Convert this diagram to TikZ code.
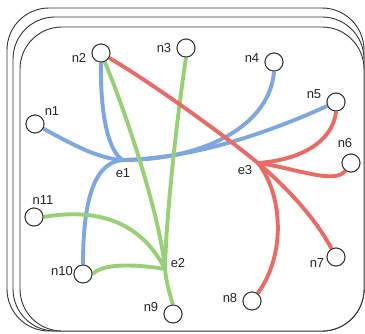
\documentclass[tikz,border=0pt]{standalone}
\usepackage{fontspec}
\setmainfont{Liberation Sans}
\definecolor{hblue}{HTML}{7EA6E0}
\definecolor{hgreen}{HTML}{97D077}
\definecolor{hred}{HTML}{EA6B66}
\definecolor{frame}{HTML}{333333}
\begin{document}
\begin{tikzpicture}[x=1pt,y=-1pt,
  sheet/.style={draw=frame,line width=0.9pt,fill=white,rounded corners=42pt},
  vtx/.style={circle,draw=frame,line width=0.9pt,fill=white,minimum size=18pt,inner sep=0pt},
  lbl/.style={font=\fontsize{13}{13}\selectfont,inner sep=0pt,text=black!85},
  blueedge/.style={draw=hblue,line width=3.9pt},
  greenedge/.style={draw=hgreen,line width=3.9pt},
  rededge/.style={draw=hred,line width=3.9pt}]
\useasboundingbox (0,0) rectangle (365,333);
% stacked sheets
\draw[sheet] (7,8) rectangle (364,331);
\draw[sheet] (13,17) rectangle (364,331);
\draw[sheet] (20,27) rectangle (364,331);

% hub points of the three hyperedges
\coordinate (h1) at (123,160);
\coordinate (h2) at (165,269);
\coordinate (h3) at (258,163);

% vertices (placed first so edges can refer to them)
\node[vtx] (n1) at (35,124) {};
\node[vtx] (n2) at (101,53) {};
\node[vtx] (n3) at (186,48) {};
\node[vtx] (n4) at (274,62) {};
\node[vtx] (n5) at (336,102) {};
\node[vtx] (n6) at (351,163) {};
\node[vtx] (n7) at (336,257) {};
\node[vtx] (n8) at (252,301) {};
\node[vtx] (n9) at (173,314) {};
\node[vtx] (n10) at (83,274) {};
\node[vtx] (n11) at (34,217) {};

% hyperedge e1
\draw[blueedge] (n1) .. controls (75,146) and (100,159) .. (h1);
\draw[blueedge] (n2.south) .. controls (100,112) and (108,152) .. (h1);
\draw[blueedge] (n4.south) .. controls (270,125) and (205,160) .. (h1);
\draw[blueedge] (n5) .. controls (285,125) and (205,158) .. (h1);
\draw[blueedge] (n10.north) .. controls (83,198) and (95,162) .. (h1);

% hyperedge e2
\draw[greenedge] (n2) .. controls (125,110) and (160,215) .. (h2);
\draw[greenedge] (n3.south) .. controls (178,110) and (166,215) .. (h2);
\draw[greenedge] (n9.north) .. controls (170,295) and (166,282) .. (h2);
\draw[greenedge] (n11.east) .. controls (95,208) and (140,220) .. (h2);
\draw[greenedge] (n10.east) .. controls (105,262) and (140,265) .. (h2);

% hyperedge e3
\draw[rededge] (n2) .. controls (150,82) and (220,132) .. (h3);
\draw[rededge] (n5.south) .. controls (333,142) and (300,160) .. (h3);
\draw[rededge] (n6) .. controls (335,185) and (295,168) .. (h3);
\draw[rededge] (n7) .. controls (312,212) and (278,180) .. (h3);
\draw[rededge] (n8) .. controls (286,255) and (283,195) .. (h3);

% redraw vertices above the edges
\foreach \v/\p in {n1/{35,124},n2/{101,53},n3/{186,48},n4/{274,62},n5/{336,102},n6/{351,163},n7/{336,257},n8/{252,301},n9/{173,314},n10/{83,274},n11/{34,217}}
  \node[vtx] at (\p) {};

% labels
\node[lbl] (l1) at (52,111) {n1};
\node[lbl] (l2) at (79,58) {n2};
\node[lbl] (l3) at (164,48) {n3};
\node[lbl] (l4) at (252,58) {n4};
\node[lbl] (l5) at (314,94) {n5};
\node[lbl] (l6) at (345,143) {n6};
\node[lbl] (l7) at (317,263) {n7};
\node[lbl] (l8) at (230,298) {n8};
\node[lbl] (l9) at (151,307) {n9};
\node[lbl] (l10) at (62,271) {n10};
\node[lbl] (l11) at (43,200) {n11};
\node[lbl] (le1) at (123,173) {e1};
\node[lbl] (le2) at (178,263) {e2};
\node[lbl] (le3) at (245,170) {e3};
\end{tikzpicture}
\end{document}
